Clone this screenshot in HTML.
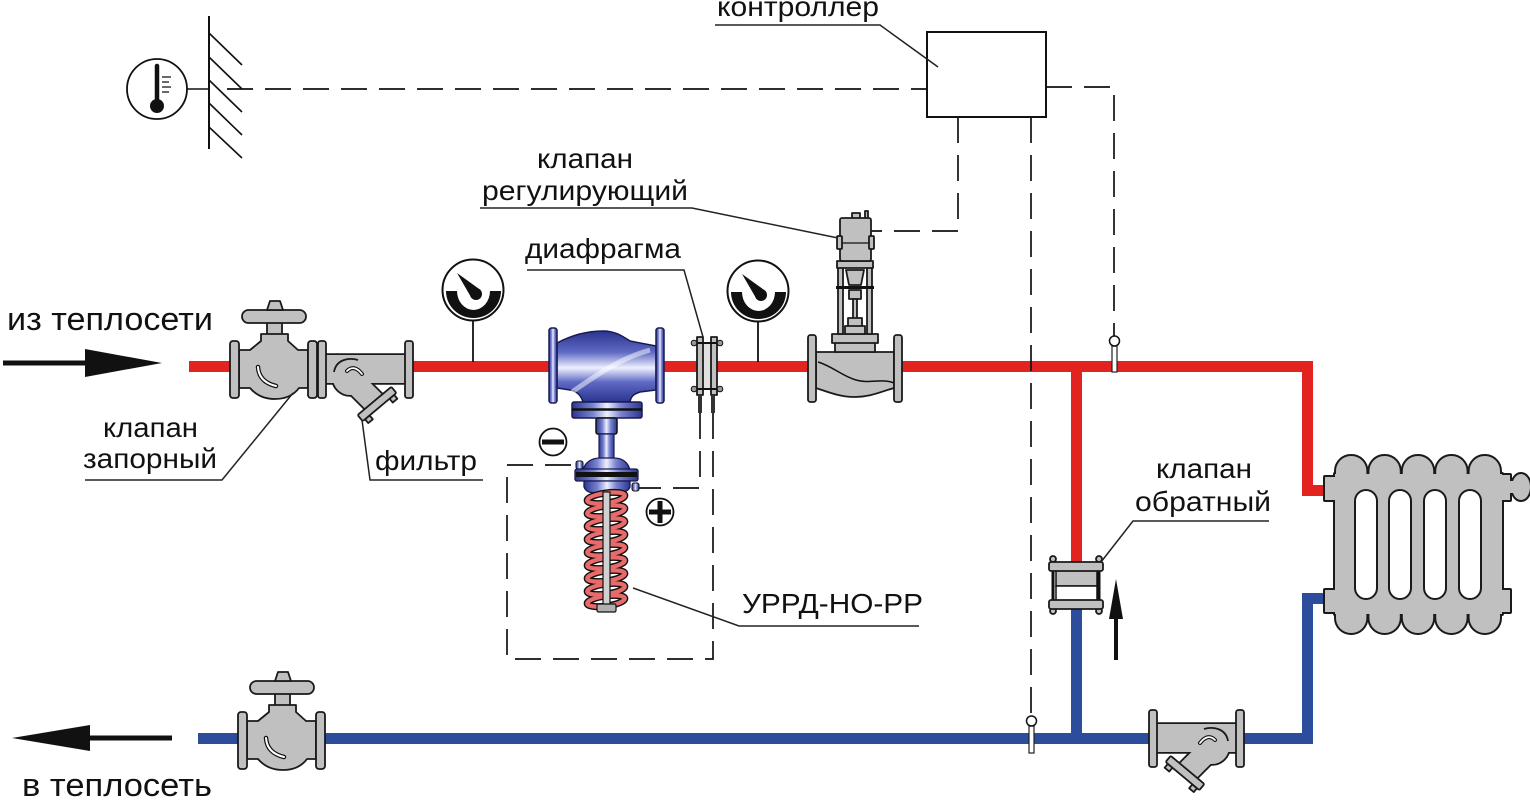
<!DOCTYPE html>
<html><head><meta charset="utf-8">
<style>
html,body{margin:0;padding:0;background:#fff;}
svg{display:block}
text{font-family:"Liberation Sans",Arial,sans-serif;fill:#111}
.g{fill:#c0c0c0;stroke:#1a1a1a;stroke-width:1.8;stroke-linejoin:round}
.ld{fill:none;stroke:#222;stroke-width:1.5}
.ds{fill:none;stroke:#111;stroke-width:1.7;stroke-dasharray:26 12}
</style></head><body>
<svg width="1530" height="800" viewBox="0 0 1530 800" xmlns="http://www.w3.org/2000/svg">
<defs>
<linearGradient id="gb" x1="0" y1="0" x2="0" y2="1">
<stop offset="0" stop-color="#2a3590"/><stop offset="0.3" stop-color="#5f6ac4"/><stop offset="0.52" stop-color="#eef0ff"/><stop offset="0.72" stop-color="#5f6ac4"/><stop offset="1" stop-color="#2a3590"/>
</linearGradient>
<linearGradient id="gbh" x1="0" y1="0" x2="1" y2="0">
<stop offset="0" stop-color="#2a3590"/><stop offset="0.3" stop-color="#7a84d2"/><stop offset="0.5" stop-color="#eef0ff"/><stop offset="0.7" stop-color="#7a84d2"/><stop offset="1" stop-color="#2a3590"/>
</linearGradient>
<g id="filtsh">
<rect x="324" y="355" width="83" height="28"/>
<circle cx="350" cy="378" r="17"/>
<polygon points="360.4,372.9 382.4,394.9 365.6,409.1 343.6,387.1"/>
</g>
<g id="radsh">
<rect x="1335" y="474" width="167" height="140"/>
<rect x="1336" y="456" width="30.4" height="34" rx="15"/>
<rect x="1369.4" y="456" width="30.4" height="34" rx="15"/>
<rect x="1402.8" y="456" width="30.4" height="34" rx="15"/>
<rect x="1436.2" y="456" width="30.4" height="34" rx="15"/>
<rect x="1469.6" y="456" width="30.4" height="34" rx="15"/>
<rect x="1336" y="600" width="30.4" height="33" rx="15"/>
<rect x="1369.4" y="600" width="30.4" height="33" rx="15"/>
<rect x="1402.8" y="600" width="30.4" height="33" rx="15"/>
<rect x="1436.2" y="600" width="30.4" height="33" rx="15"/>
<rect x="1469.6" y="600" width="30.4" height="33" rx="15"/>
<rect x="1325" y="477" width="12" height="23"/>
<rect x="1325" y="590" width="12" height="22"/>
<rect x="1500" y="475" width="10" height="25"/>
<rect x="1500" y="590" width="10" height="22"/>
<rect x="1508" y="481" width="6" height="12"/>
<ellipse cx="1521" cy="487" rx="9" ry="13"/>
</g>
</defs>

<!-- pipes -->
<g fill="#e2231f">
<rect x="189" y="361" width="1124" height="11"/>
<rect x="1302" y="361" width="11" height="135"/>
<rect x="1302" y="485" width="24" height="11"/>
<rect x="1071" y="361" width="11" height="205"/>
</g>
<g fill="#2b4d9b">
<rect x="198" y="733" width="1115" height="11"/>
<rect x="1302" y="593" width="11" height="151"/>
<rect x="1302" y="593" width="24" height="11"/>
<rect x="1071" y="605" width="11" height="135"/>
</g>

<!-- thermometer & wall -->
<circle cx="157" cy="89" r="30" fill="#fff" stroke="#111" stroke-width="1.8"/>
<line x1="157" y1="66" x2="157" y2="102" stroke="#111" stroke-width="4.5" stroke-linecap="round"/>
<circle cx="157" cy="106" r="7" fill="#111"/>
<path d="M162,77h9M162,82h7M162,87h9M162,92h7" stroke="#111" stroke-width="1.3"/>
<line x1="187" y1="89" x2="209" y2="89" stroke="#111" stroke-width="1.6"/>
<line x1="209" y1="16" x2="209" y2="149" stroke="#111" stroke-width="2"/>
<path d="M209,33l33,32M209,57l33,32M209,80l33,32M209,103l33,32M209,127l33,31" stroke="#111" stroke-width="1.6"/>

<!-- dashed control lines -->
<path class="ds" d="M227,89 H927"/>
<path class="ds" d="M1046,87 H1114 V336"/>
<path class="ds" d="M958,117 V231 H871"/>
<path class="ds" d="M1031,117 V716"/>
<path class="ds" d="M700,413 V488 H637"/>
<path class="ds" d="M713,413 V659 H507 V465 H578"/>

<!-- controller -->
<rect x="927" y="32" width="119" height="85" fill="#fff" stroke="#111" stroke-width="2"/>

<!-- sensors -->
<rect x="1112" y="346" width="5" height="26" fill="#fff" stroke="#222" stroke-width="1.2"/>
<circle cx="1114.5" cy="341" r="5" fill="#fff" stroke="#111" stroke-width="1.5"/>
<rect x="1029" y="726" width="5" height="27" fill="#fff" stroke="#222" stroke-width="1.2"/>
<circle cx="1031.5" cy="721" r="5" fill="#fff" stroke="#111" stroke-width="1.5"/>

<!-- gauges -->
<line x1="473" y1="320" x2="473" y2="362" stroke="#111" stroke-width="1.8"/>
<circle cx="473" cy="290" r="30.5" fill="#fff" stroke="#111" stroke-width="2"/>
<path d="M446,291 A27.5,27 0 0 0 501,291 L490,291 A16.5,19 0 0 1 457,291 Z" fill="#111"/>
<polygon points="457,273 480.4,289.9 471.6,298.1" fill="#111"/>
<circle cx="476" cy="294" r="6" fill="#111"/>

<line x1="758" y1="321" x2="758" y2="362" stroke="#111" stroke-width="1.8"/>
<circle cx="758" cy="291" r="30.5" fill="#fff" stroke="#111" stroke-width="2"/>
<path d="M731,292 A27.5,27 0 0 0 786,292 L775,292 A16.5,19 0 0 1 742,292 Z" fill="#111"/>
<polygon points="742,274 765.4,290.9 756.6,299.1" fill="#111"/>
<circle cx="761" cy="295" r="6" fill="#111"/>

<!-- gate valves -->
<g id="gvalve">
<rect class="g" x="267" y="321" width="15" height="15"/>
<path class="g" d="M239,350 H250 L261,341 V334 H288 V341 L298,350 H308 V388 H299 C293,396 285,399 275,399 C264,399 256,395 250,388 H239 Z"/>
<rect class="g" x="230" y="341" width="9" height="57" rx="3"/>
<rect class="g" x="308" y="341" width="9" height="57" rx="3"/>
<rect class="g" x="242" y="310" width="64" height="13" rx="6.5"/>
<path class="g" d="M267,310 L270,301 H280 L283,310 Z"/>
<path d="M258,367 Q259,382 276,386" fill="none" stroke="#111" stroke-width="4.5" stroke-linecap="round"/>
<path d="M258,367 Q259,382 276,386" fill="none" stroke="#fff" stroke-width="2" stroke-linecap="round"/>
</g>
<use href="#gvalve" transform="translate(8,371)"/>

<!-- filters -->
<g id="filt">
<use href="#filtsh" fill="#c0c0c0" stroke="#1a1a1a" stroke-width="3.6" stroke-linejoin="round"/>
<use href="#filtsh" fill="#c0c0c0"/>
<path d="M334,372 C336,360 348,357 358,360" fill="none" stroke="#1a1a1a" stroke-width="1.8"/>
<rect class="g" x="318" y="341" width="8" height="57" rx="2.5"/>
<rect class="g" x="405" y="341" width="8" height="57" rx="2.5"/>
<g transform="translate(377,404) rotate(-40)">
<rect class="g" x="-19" y="4" width="6" height="5"/>
<rect class="g" x="13" y="4" width="6" height="5"/>
<rect class="g" x="-22" y="-4" width="44" height="8" rx="1.5"/>
</g>
<path d="M347,371 Q354,364 362,374" fill="none" stroke="#111" stroke-width="4" stroke-linecap="round"/>
<path d="M347,371 Q354,364 362,374" fill="none" stroke="#fff" stroke-width="1.8" stroke-linecap="round"/>
</g>
<use href="#filt" transform="translate(1562,369) scale(-1,1)"/>

<!-- URRD blue valve -->
<path d="M557,343 C572,335 588,331 603,331 C615,331 622,336 630,341 L656,346 V390 L640,392 C634,394 631,396 630,402 H583 C581,395 576,391 570,390 L557,388 Z" fill="url(#gb)" stroke="#1a1a50" stroke-width="1.5"/>
<path d="M572,392 C590,380 615,360 650,350" fill="none" stroke="#fff" stroke-width="5" opacity="0.5"/>
<rect x="549" y="328" width="8" height="75" rx="2.5" fill="url(#gbh)" stroke="#1a1a50" stroke-width="1.5"/>
<rect x="656" y="328" width="8" height="75" rx="2.5" fill="url(#gbh)" stroke="#1a1a50" stroke-width="1.5"/>
<rect x="572" y="402" width="70" height="16" rx="2" fill="url(#gbh)" stroke="#1a1a50" stroke-width="1.5"/>
<line x1="572" y1="409.5" x2="642" y2="409.5" stroke="#111" stroke-width="2.5"/>
<rect x="596" y="418" width="21" height="16" rx="2" fill="url(#gbh)" stroke="#111" stroke-width="1.5"/>
<rect x="599" y="434" width="15" height="26" fill="url(#gbh)" stroke="#1a1a50" stroke-width="1.2"/>
<path d="M583,470 C585,462 592,458 600,458 H614 C622,458 628,462 630,470 Z" fill="url(#gbh)" stroke="#1a1a50" stroke-width="1.3"/>
<rect x="576" y="461" width="7" height="8" rx="2" fill="url(#gbh)" stroke="#111" stroke-width="1"/>
<rect x="575" y="469" width="63" height="12" rx="2" fill="url(#gbh)" stroke="#1a1a50" stroke-width="1.3"/>
<rect x="576" y="472" width="61" height="5" fill="#111"/>
<path d="M584,481 H630 V487 C628,492 622,493 615,493 H598 C590,493 586,492 584,487 Z" fill="url(#gbh)" stroke="#1a1a50" stroke-width="1.3"/>
<rect x="632" y="483" width="7" height="8" rx="2" fill="url(#gbh)" stroke="#111" stroke-width="1"/>
<!-- spring -->
<g fill="none">
<g stroke="#111" stroke-width="7">
<ellipse cx="606" cy="498" rx="19" ry="5" transform="rotate(-8 606 498)"/>
<ellipse cx="606" cy="511" rx="19" ry="5" transform="rotate(-8 606 511)"/>
<ellipse cx="606" cy="524" rx="19" ry="5" transform="rotate(-8 606 524)"/>
<ellipse cx="606" cy="537" rx="19" ry="5" transform="rotate(-8 606 537)"/>
<ellipse cx="606" cy="550" rx="19" ry="5" transform="rotate(-8 606 550)"/>
<ellipse cx="606" cy="563" rx="19" ry="5" transform="rotate(-8 606 563)"/>
<ellipse cx="606" cy="576" rx="19" ry="5" transform="rotate(-8 606 576)"/>
<ellipse cx="606" cy="589" rx="19" ry="5" transform="rotate(-8 606 589)"/>
<ellipse cx="606" cy="601" rx="19" ry="5" transform="rotate(-8 606 601)"/>
</g>
<g stroke="#e86a6a" stroke-width="4.2">
<ellipse cx="606" cy="498" rx="19" ry="5" transform="rotate(-8 606 498)"/>
<ellipse cx="606" cy="511" rx="19" ry="5" transform="rotate(-8 606 511)"/>
<ellipse cx="606" cy="524" rx="19" ry="5" transform="rotate(-8 606 524)"/>
<ellipse cx="606" cy="537" rx="19" ry="5" transform="rotate(-8 606 537)"/>
<ellipse cx="606" cy="550" rx="19" ry="5" transform="rotate(-8 606 550)"/>
<ellipse cx="606" cy="563" rx="19" ry="5" transform="rotate(-8 606 563)"/>
<ellipse cx="606" cy="576" rx="19" ry="5" transform="rotate(-8 606 576)"/>
<ellipse cx="606" cy="589" rx="19" ry="5" transform="rotate(-8 606 589)"/>
<ellipse cx="606" cy="601" rx="19" ry="5" transform="rotate(-8 606 601)"/>
</g>
</g>
<rect x="603" y="492" width="7" height="114" fill="#d0d0d0" stroke="#111" stroke-width="1.2"/>
<rect x="597" y="604" width="19" height="8" rx="1.5" fill="#b0b0b0" stroke="#111" stroke-width="1.2"/>

<!-- minus / plus -->
<circle cx="553" cy="442" r="13.5" fill="#fff" stroke="#111" stroke-width="1.8"/>
<rect x="542" y="439.5" width="22" height="5" fill="#111"/>
<circle cx="660" cy="512" r="13.5" fill="#fff" stroke="#111" stroke-width="1.8"/>
<rect x="649" y="509.5" width="22" height="5" fill="#111"/>
<rect x="657.5" y="501" width="5" height="22" fill="#111"/>

<!-- orifice (диафрагма) -->
<rect x="703" y="343" width="8" height="46" fill="#e0e0e0" stroke="#444" stroke-width="1"/>
<rect x="697" y="337" width="6" height="58" class="g"/>
<rect x="711" y="337" width="6" height="58" class="g"/>
<line x1="693" y1="343" x2="721" y2="343" stroke="#111" stroke-width="2"/>
<line x1="693" y1="389" x2="721" y2="389" stroke="#111" stroke-width="2"/>
<circle cx="694" cy="343" r="2.8" fill="#999" stroke="#111" stroke-width="1"/>
<circle cx="720" cy="343" r="2.8" fill="#999" stroke="#111" stroke-width="1"/>
<circle cx="694" cy="389" r="2.8" fill="#999" stroke="#111" stroke-width="1"/>
<circle cx="720" cy="389" r="2.8" fill="#999" stroke="#111" stroke-width="1"/>
<rect x="698" y="395" width="4" height="18" fill="#333"/>
<rect x="711" y="395" width="4" height="18" fill="#333"/>

<!-- regulating valve -->
<path class="g" d="M816,352 H894 V388 C880,392 870,397 855,397 C840,397 828,392 816,388 Z"/>
<path d="M818,362 C832,366 842,376 856,380 C870,384 882,378 894,383" stroke="#111" fill="none" stroke-width="1.5"/>
<rect class="g" x="808" y="335" width="8" height="67" rx="2.5"/>
<rect class="g" x="894" y="335" width="8" height="67" rx="2.5"/>
<rect class="g" x="835" y="342" width="40" height="10"/>
<rect class="g" x="832" y="334" width="46" height="9"/>
<rect class="g" x="838" y="266" width="5" height="68"/>
<rect class="g" x="867" y="266" width="5" height="68"/>
<path class="g" d="M846,270 H864 L861,285 H849 Z"/>
<rect x="836" y="286" width="38" height="3" fill="#111"/>
<rect class="g" x="849" y="290" width="12" height="9"/>
<rect class="g" x="853" y="299" width="4" height="20"/>
<rect class="g" x="848" y="318" width="14" height="9"/>
<rect class="g" x="845" y="326" width="20" height="8"/>
<rect class="g" x="837" y="261" width="36" height="7"/>
<rect class="g" x="852" y="213" width="8" height="6"/>
<rect class="g" x="865" y="211" width="3" height="8"/>
<rect class="g" x="840" y="218" width="31" height="43" rx="2"/>
<line x1="840" y1="243" x2="871" y2="243" stroke="#111" stroke-width="1.2"/>
<rect class="g" x="837" y="236" width="5" height="13" rx="1"/>
<rect class="g" x="869" y="236" width="5" height="13" rx="1"/>

<!-- check valve -->
<line x1="1053" y1="558" x2="1053" y2="612" stroke="#111" stroke-width="3"/>
<line x1="1099" y1="558" x2="1099" y2="612" stroke="#111" stroke-width="3"/>
<rect x="1056" y="570" width="41" height="16" fill="#c0c0c0" stroke="#111" stroke-width="1.5"/>
<rect x="1056" y="586" width="41" height="15" fill="#fff" stroke="#111" stroke-width="1.5"/>
<circle cx="1053" cy="559" r="3" class="g"/>
<circle cx="1099" cy="559" r="3" class="g"/>
<circle cx="1053" cy="611" r="3" class="g"/>
<circle cx="1099" cy="611" r="3" class="g"/>
<rect class="g" x="1049" y="562" width="54" height="9" rx="2"/>
<rect class="g" x="1049" y="600" width="54" height="9" rx="2"/>

<!-- radiator -->
<use href="#radsh" fill="#c0c0c0" stroke="#1a1a1a" stroke-width="4" stroke-linejoin="round"/>
<use href="#radsh" fill="#c0c0c0"/>
<g fill="#fff" stroke="#1a1a1a" stroke-width="2">
<rect x="1355" y="490" width="22" height="109" rx="11"/>
<rect x="1389" y="490" width="22" height="109" rx="11"/>
<rect x="1424" y="490" width="22" height="109" rx="11"/>
<rect x="1459" y="490" width="22" height="109" rx="11"/>
</g>

<!-- flow arrows -->
<line x1="3" y1="363" x2="100" y2="363" stroke="#111" stroke-width="5"/>
<polygon points="85,349 162,363 85,377" fill="#111"/>
<line x1="80" y1="738" x2="172" y2="738" stroke="#111" stroke-width="5"/>
<polygon points="90,725 12,738 90,751" fill="#111"/>
<line x1="1116" y1="660" x2="1116" y2="612" stroke="#111" stroke-width="4"/>
<polygon points="1109,619 1116,579 1123,619" fill="#111"/>

<!-- leader lines -->
<path class="ld" d="M715,25 H880 L938,67"/>
<path class="ld" d="M480,208 H692 L838,238"/>
<path class="ld" d="M527,270 H684 L703,337"/>
<path class="ld" d="M85,480 H222 L293,393"/>
<path class="ld" d="M483,480 H370 L362,420"/>
<path class="ld" d="M919,626 H739 L633,588"/>
<path class="ld" d="M1269,521 H1133 L1101,562"/>

<!-- labels -->
<text x="717" y="16" font-size="28" textLength="162" lengthAdjust="spacingAndGlyphs">контроллер</text>
<text x="537" y="168" font-size="28" textLength="96" lengthAdjust="spacingAndGlyphs">клапан</text>
<text x="482" y="200" font-size="28" textLength="206" lengthAdjust="spacingAndGlyphs">регулирующий</text>
<text x="525" y="258" font-size="28" textLength="156" lengthAdjust="spacingAndGlyphs">диафрагма</text>
<text x="7" y="330" font-size="32" textLength="206" lengthAdjust="spacingAndGlyphs">из теплосети</text>
<text x="22" y="796" font-size="32" textLength="190" lengthAdjust="spacingAndGlyphs">в теплосеть</text>
<text x="103" y="437" font-size="28" textLength="95" lengthAdjust="spacingAndGlyphs">клапан</text>
<text x="83" y="468" font-size="28" textLength="134" lengthAdjust="spacingAndGlyphs">запорный</text>
<text x="375" y="470" font-size="28" textLength="102" lengthAdjust="spacingAndGlyphs">фильтр</text>
<text x="742" y="613" font-size="28" textLength="181" lengthAdjust="spacingAndGlyphs">УРРД-НО-РР</text>
<text x="1156" y="478" font-size="28" textLength="96" lengthAdjust="spacingAndGlyphs">клапан</text>
<text x="1135" y="511" font-size="28" textLength="136" lengthAdjust="spacingAndGlyphs">обратный</text>
</svg>
</body></html>
